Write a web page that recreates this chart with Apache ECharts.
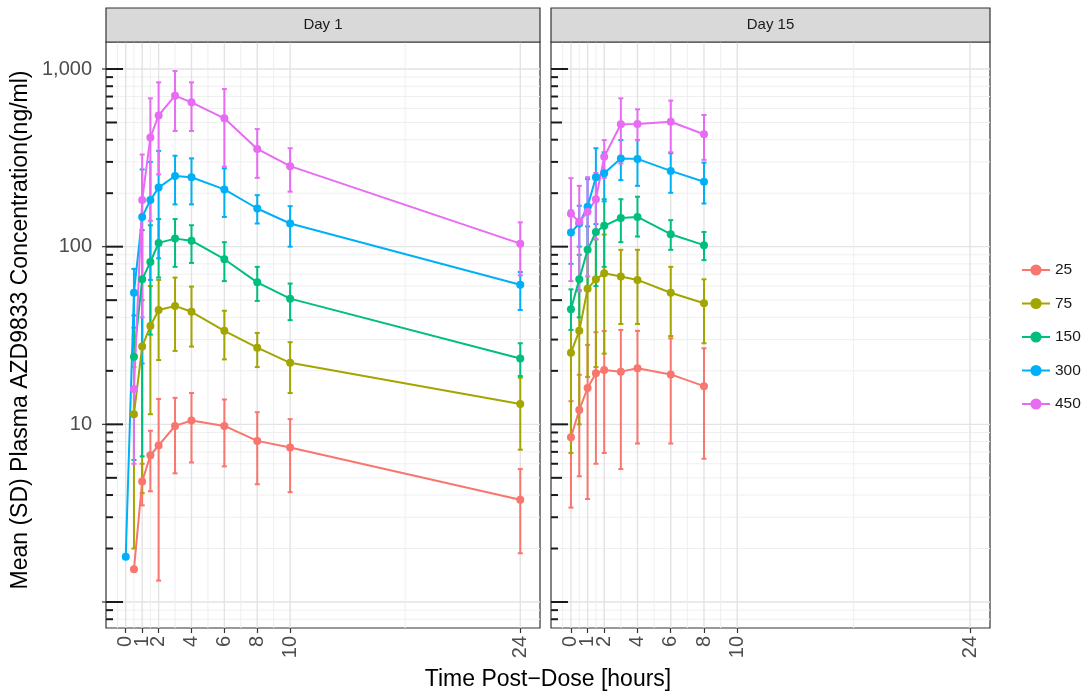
<!DOCTYPE html>
<html><head><meta charset="utf-8">
<script src="https://cdn.jsdelivr.net/npm/echarts@6/dist/echarts.min.js"></script>
<style>html,body{margin:0;padding:0;background:#fff}#c{width:1083px;height:698px}</style>
</head><body><div id="c"></div>
<script>
// ---- data ----
const doses = ['25', '75', '150', '300', '450'];
const colors = ['#F8766D', '#A3A500', '#00BF7D', '#00B0F6', '#E76BF3'];
const panels = ['Day 1', 'Day 15'];

const timesDay1 = [0, 0.5, 1, 1.5, 2, 3, 4, 6, 8, 10, 24];
const timesDay15 = [0, 0.5, 1, 1.5, 2, 3, 4, 6, 8];

// Day 1 means / lower (mean-SD) / upper (mean+SD)
const d1Mean25  = [null, 1.53, 4.76, 6.7, 7.6, 9.8, 10.5, 9.8, 8.07, 7.4, 3.76];
const d1Low25   = [null, null, 3.5, 4.2, 1.32, 5.3, 6.1, 5.8, 4.6, 4.15, 1.88];
const d1High25  = [null, null, 6.0, 9.2, 13.9, 14.1, 15, 13.8, 11.7, 10.7, 5.6];
const d1Mean75  = [null, 11.4, 27.4, 35.8, 44, 46.4, 43, 33.6, 27, 22.2, 13];
const d1Low75   = [null, 2.0, 4.1, 11.4, 23, 25.9, 27.4, 23.2, 21, 15, 7.2];
const d1High75  = [null, 21, 50, 60, 65, 67, 59.6, 43.6, 32.7, 29, 18.3];
const d1Mean150 = [null, 24, 65.5, 82, 105, 111, 108, 85, 63, 51, 23.5];
const d1Low150  = [null, 6.3, 6.6, 32, 67, 77, 81, 64, 49.5, 38.6, 18.7];
const d1High150 = [null, 41, 124, 132, 143, 143, 132, 106, 77, 62, 28.6];
const d1Mean300 = [1.8, 55, 147, 183, 215, 250, 246, 210, 164, 135, 61];
const d1Low300  = [null, 35, 22, 65, 86, 173, 173, 147, 135, 100, 44];
const d1High300 = [null, 75, 272, 300, 346, 325, 314, 276, 195, 169, 72];
const d1Mean450 = [null, 15.8, 183, 412, 548, 708, 649, 528, 355, 284, 104];
const d1Low450  = [null, 6, 40, 140, 255, 448, 448, 282, 244, 204, 69];
const d1High450 = [null, 26, 330, 684, 841, 974, 841, 771, 459, 358, 137];

// Day 15
const d15Mean25  = [8.45, 12.05, 16, 19.4, 20.2, 19.8, 20.7, 19.1, 16.4];
const d15Low25   = [3.4, 5.1, 3.8, 6.0, 6.9, 5.6, 7.8, 7.8, 6.4];
const d15High25  = [13.5, 19, 28, 33, 33.5, 34, 33.6, 30.5, 26.8];
const d15Mean75  = [25.3, 33.6, 58, 65.5, 70.8, 68, 65, 55, 48];
const d15Low75   = [6.9, 10, 18.5, 21, 25, 36.7, 36.7, 31.4, 28.6];
const d15High75  = [43.7, 57, 97, 110, 117, 96, 96, 77, 65.5];
const d15Mean150 = [44.4, 65.5, 96, 121, 131, 145, 147, 117.5, 102];
const d15Low150  = [34, 40, 60, 60, 77, 106, 114, 96, 84];
const d15High150 = [57.5, 90, 130, 182, 185, 185, 191, 141, 121];
const d15Mean300 = [120, 135, 168, 246, 259, 314, 312, 267, 232];
const d15Low300  = [80, 100, 95, 134, 180, 237, 220, 201, 175];
const d15High300 = [160, 170, 240, 358, 340, 398, 398, 336, 297];
const d15Mean450 = [153, 138, 157, 185, 321, 489, 490, 505, 429];
const d15Low450  = [64, 56, 68, 110, 244, 294, 398, 340, 308];
const d15High450 = [243, 220, 246, 260, 398, 684, 593, 664, 551];

// axis ticks
const xBreaks = [0, 1, 2, 4, 6, 8, 10, 24];
const xMinorBreaks = [-0.5, 0.5, 1.5, 3, 5, 7, 9, 17];
const yMajorBreaks = [1, 10, 100, 1000];
const yLogTicks = [0.8, 0.9, 1, 2, 3, 4, 5, 6, 7, 8, 9, 10, 20, 30, 40, 50, 60, 70, 80, 90,
                   100, 200, 300, 400, 500, 600, 700, 800, 900, 1000];

// ---- build ----
const dayData = [
  { times: timesDay1,
    mean: [d1Mean25, d1Mean75, d1Mean150, d1Mean300, d1Mean450],
    low:  [d1Low25, d1Low75, d1Low150, d1Low300, d1Low450],
    high: [d1High25, d1High75, d1High150, d1High300, d1High450] },
  { times: timesDay15,
    mean: [d15Mean25, d15Mean75, d15Mean150, d15Mean300, d15Mean450],
    low:  [d15Low25, d15Low75, d15Low150, d15Low300, d15Low450],
    high: [d15High25, d15High75, d15High150, d15High300, d15High450] }
];

const FONT = '"Liberation Sans", Arial, sans-serif';
const gridBoxes = [
  { left: 106, right: 1083 - 540, top: 42, bottom: 698 - 628 },
  { left: 551, right: 1083 - 990, top: 42, bottom: 698 - 628 }
];

function isDecade(v) { const l = Math.log10(v); return Math.abs(l - Math.round(l)) < 1e-6; }
function mantissa(v) { return v / Math.pow(10, Math.floor(Math.log10(v) + 1e-9)); }

const series = [];
[0, 1].forEach(g => {
  // horizontal grid lines
  series.push({
    type: 'custom', name: 'hgrid' + g, xAxisIndex: g, yAxisIndex: g, z: 1, silent: true, clip: false,
    data: yLogTicks.map(v => [0, v]),
    renderItem(params, api) {
      const cs = params.coordSys; const v = api.value(1);
      const y = api.coord([0, v])[1];
      const major = isDecade(v);
      return { type: 'line', shape: { x1: cs.x, y1: y, x2: cs.x + cs.width, y2: y },
        style: { stroke: major ? '#e3e3e3' : '#efefef', lineWidth: major ? 1.4 : 1 } };
    }
  });
  // vertical grid lines
  series.push({
    type: 'custom', name: 'vgrid' + g, xAxisIndex: g, yAxisIndex: g, z: 1, silent: true, clip: false,
    data: xBreaks.map(v => [v, 1, 1]).concat(xMinorBreaks.map(v => [v, 1, 0])),
    renderItem(params, api) {
      const cs = params.coordSys; const x = api.coord([api.value(0), 1])[0];
      const major = api.value(2) === 1;
      return { type: 'line', shape: { x1: x, y1: cs.y, x2: x, y2: cs.y + cs.height },
        style: { stroke: major ? '#e3e3e3' : '#efefef', lineWidth: major ? 1.4 : 1 } };
    }
  });
  // log ticks inside the panel (left side)
  series.push({
    type: 'custom', name: 'logticks' + g, xAxisIndex: g, yAxisIndex: g, z: 5, silent: true, clip: false,
    data: yLogTicks.map(v => [0, v]),
    renderItem(params, api) {
      const cs = params.coordSys; const v = api.value(1);
      const y = api.coord([0, v])[1];
      const m = mantissa(v);
      const len = isDecade(v) ? 17 : (Math.abs(m - 5) < 1e-6 ? 11 : 7);
      return { type: 'line', shape: { x1: cs.x, y1: y, x2: cs.x + len, y2: y },
        style: { stroke: '#1a1a1a', lineWidth: 2 } };
    }
  });
  if (g === 0) {
    series.push({
      type: 'custom', name: 'outerTicks', xAxisIndex: 0, yAxisIndex: 0, z: 5, silent: true, clip: false,
      data: yMajorBreaks.map(v => [0, v]),
      renderItem(params, api) {
        const cs = params.coordSys; const y = api.coord([0, api.value(1)])[1];
        return { type: 'line', shape: { x1: cs.x - 4, y1: y, x2: cs.x, y2: y },
          style: { stroke: '#333', lineWidth: 1.2 } };
      }
    });
  }
  // x tick labels drawn through the x scale (so overlapping 0/1/2 all stay visible)
  series.push({
    type: 'custom', name: 'xlabels' + g, xAxisIndex: g, yAxisIndex: g, z: 5, silent: true, clip: false,
    data: xBreaks.map(v => [v, 1]),
    renderItem(params, api) {
      const cs = params.coordSys; const v = api.value(0);
      const x = api.coord([v, 1])[0];
      return { type: 'text', x: x, y: cs.y + cs.height + 8, rotation: Math.PI / 2,
        style: { text: String(v), font: '20px ' + FONT, fill: '#4d4d4d', align: 'right', verticalAlign: 'middle' } };
    }
  });
  const dd = dayData[g];
  doses.forEach((d, i) => {
    const ebData = [];
    dd.times.forEach((t, k) => { if (dd.low[i][k] != null) ebData.push([t, dd.low[i][k], dd.high[i][k]]); });
    series.push({
      type: 'custom', name: 'sd' + d + '_' + g, xAxisIndex: g, yAxisIndex: g, z: 3, silent: true,
      data: ebData, encode: { x: 0, y: [1, 2] },
      renderItem(params, api) {
        const p1 = api.coord([api.value(0), api.value(1)]);
        const p2 = api.coord([api.value(0), api.value(2)]);
        const hw = 2.5;
        const st = { stroke: colors[i], lineWidth: 2 };
        return { type: 'group', children: [
          { type: 'line', shape: { x1: p1[0], y1: p1[1], x2: p2[0], y2: p2[1] }, style: st },
          { type: 'line', shape: { x1: p1[0] - hw, y1: p1[1], x2: p1[0] + hw, y2: p1[1] }, style: st },
          { type: 'line', shape: { x1: p2[0] - hw, y1: p2[1], x2: p2[0] + hw, y2: p2[1] }, style: st }
        ] };
      }
    });
  });
});
// lines + points (first, so legend picks line icons)
const lineSeries = [];
[0, 1].forEach(g => {
  const dd = dayData[g];
  doses.forEach((d, i) => {
    const pts = [];
    dd.times.forEach((t, k) => { if (dd.mean[i][k] != null) pts.push([t, dd.mean[i][k]]); });
    lineSeries.push({
      type: 'line', name: d, xAxisIndex: g, yAxisIndex: g, z: 4,
      data: pts, symbol: 'circle', symbolSize: 8, showSymbol: true,
      lineStyle: { color: colors[i], width: 2 }, itemStyle: { color: colors[i] },
      emphasis: { disabled: true }
    });
  });
});

const xTickValues = xBreaks.map(v => (v === 0 ? 1e-9 : v));
const xAxes = [0, 1].map(g => ({
  type: 'value', gridIndex: g, min: -1.2, max: 25.2,
  axisLine: { show: false },
  splitLine: { show: false },
  axisTick: { show: true, customValues: xTickValues, length: 5, lineStyle: { color: '#333', width: 1.2 } },
  axisLabel: { show: false }
}));
const yAxes = [0, 1].map(g => ({
  type: 'log', logBase: 10, gridIndex: g, min: 0.714, max: 1419,
  axisLine: { show: false }, axisTick: { show: false }, splitLine: { show: false },
  axisLabel: { show: g === 0, margin: 14, fontSize: 20, fontFamily: FONT, color: '#4d4d4d',
    formatter: v => (isDecade(v) && v >= 10) ? Math.round(v).toLocaleString('en-US') : '' }
}));

const graphics = [];
[[106, 540], [551, 990]].forEach((r, g) => {
  graphics.push({ type: 'rect', shape: { x: r[0], y: 8, width: r[1] - r[0], height: 34 },
    style: { fill: '#d9d9d9', stroke: '#333', lineWidth: 1.2 }, z: 10 });
  graphics.push({ type: 'text', x: (r[0] + r[1]) / 2, y: 25,
    style: { text: panels[g], font: '15px ' + FONT, fill: '#1a1a1a', align: 'center', verticalAlign: 'middle' }, z: 11 });
});
graphics.push({ type: 'text', x: 548, y: 680,
  style: { text: 'Time Post\u2212Dose [hours]', font: '23px ' + FONT, fill: '#000', align: 'center', verticalAlign: 'middle' } });
graphics.push({ type: 'text', x: 21, y: 330, rotation: Math.PI / 2,
  style: { text: 'Mean (SD) Plasma AZD9833 Concentration(ng/ml)', font: '23px ' + FONT, fill: '#000', align: 'center', verticalAlign: 'middle' } });

const chart = echarts.init(document.getElementById('c'), null, { renderer: 'canvas' });
chart.setOption({
  animation: false,
  backgroundColor: '#fff',
  grid: gridBoxes.map(b => Object.assign({ show: true, borderColor: '#333', borderWidth: 1.2, backgroundColor: '#fff', containLabel: false }, b)),
  xAxis: xAxes,
  yAxis: yAxes,
  legend: {
    data: doses, orient: 'vertical', left: 1021, top: 262, padding: 0,
    itemWidth: 28, itemHeight: 14, itemGap: 17.5,
    textStyle: { fontSize: 15.5, fontFamily: FONT, color: '#1a1a1a' }, selectedMode: false
  },
  graphic: graphics,
  series: lineSeries.concat(series)
});
</script></body></html>
